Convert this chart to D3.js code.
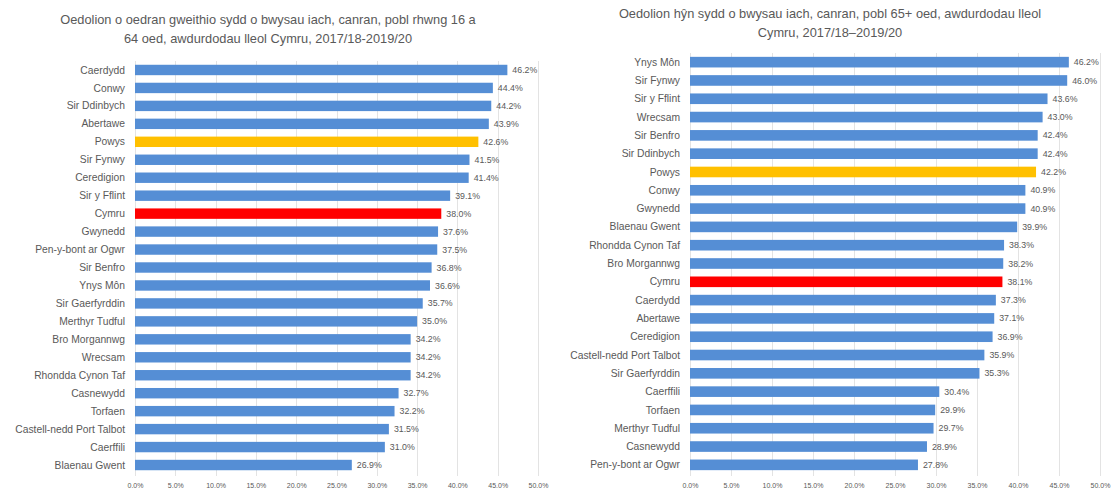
<!DOCTYPE html>
<html>
<head>
<meta charset="utf-8">
<script src="https://cdn.jsdelivr.net/npm/d3@7"></script>
<style>
  body { margin: 0; background: #fff; }
  svg { display: block; }
  text { font-family: "Liberation Sans", "DejaVu Sans", sans-serif; fill: #595959; }
</style>
</head>
<body>
<svg id="chart" width="1118" height="493"></svg>
<script>
// ---- Data ----
const leftTitle = ["Oedolion o oedran gweithio sydd o bwysau iach, canran, pobl rhwng 16 a", "64 oed, awdurdodau lleol Cymru, 2017/18-2019/20"];
const leftCategories = ["Caerdydd","Conwy","Sir Ddinbych","Abertawe","Powys","Sir Fynwy","Ceredigion","Sir y Fflint","Cymru","Gwynedd","Pen-y-bont ar Ogwr","Sir Benfro","Ynys Môn","Sir Gaerfyrddin","Merthyr Tudful","Bro Morgannwg","Wrecsam","Rhondda Cynon Taf","Casnewydd","Torfaen","Castell-nedd Port Talbot","Caerffili","Blaenau Gwent"];
const leftValues = [46.2,44.4,44.2,43.9,42.6,41.5,41.4,39.1,38.0,37.6,37.5,36.8,36.6,35.7,35.0,34.2,34.2,34.2,32.7,32.2,31.5,31.0,26.9];

const rightTitle = ["Oedolion hŷn sydd o bwysau iach, canran, pobl 65+ oed, awdurdodau lleol", "Cymru, 2017/18\u20132019/20"];
const rightCategories = ["Ynys Môn","Sir Fynwy","Sir y Fflint","Wrecsam","Sir Benfro","Sir Ddinbych","Powys","Conwy","Gwynedd","Blaenau Gwent","Rhondda Cynon Taf","Bro Morgannwg","Cymru","Caerdydd","Abertawe","Ceredigion","Castell-nedd Port Talbot","Sir Gaerfyrddin","Caerffili","Torfaen","Merthyr Tudful","Casnewydd","Pen-y-bont ar Ogwr"];
const rightValues = [46.2,46.0,43.6,43.0,42.4,42.4,42.2,40.9,40.9,39.9,38.3,38.2,38.1,37.3,37.1,36.9,35.9,35.3,30.4,29.9,29.7,28.9,27.8];

const xTicks = [0,5,10,15,20,25,30,35,40,45,50];
const highlightColors = { "Powys": "#FFC000", "Cymru": "#FF0000" };
const baseColor = "#558ED5";

const svg = d3.select("#chart");

function drawChart(cfg) {
  const g = svg.append("g");
  const x = d3.scaleLinear().domain([0, 50]).range([cfg.x0, cfg.x1]);
  const y = d3.scaleBand().domain(cfg.categories).range([cfg.yTop, cfg.yBottom]).paddingInner(0.42).paddingOuter(0.21);

  // title
  g.append("text")
    .attr("x", cfg.titleX).attr("y", cfg.titleY)
    .attr("text-anchor", "middle")
    .style("font-size", "12.8px")
    .selectAll("tspan").data(cfg.title).join("tspan")
    .attr("x", cfg.titleX).attr("dy", (d, i) => i === 0 ? 0 : 18.5)
    .text(d => d);

  // gridlines
  g.append("g").selectAll("line").data(xTicks).join("line")
    .attr("x1", d => Math.round(x(d)) + 0.5).attr("x2", d => Math.round(x(d)) + 0.5)
    .attr("y1", cfg.gridTop).attr("y2", cfg.gridBottom)
    .attr("stroke", "#e3e3e3").attr("stroke-width", 1);

  // x axis labels
  const axis = d3.axisBottom(x).tickValues(xTicks).tickSize(0).tickFormat(d => d3.format(".1f")(d) + "%");
  const ax = g.append("g").attr("transform", `translate(0,${cfg.axisY})`).call(axis);
  ax.select(".domain").remove();
  ax.selectAll("text").style("font-size", "7px").attr("dy", "0.7em").attr("fill", "#595959");

  // bars
  g.append("g").selectAll("rect").data(cfg.categories).join("rect")
    .attr("x", x(0))
    .attr("y", d => y(d))
    .attr("width", (d, i) => x(cfg.values[i]) - x(0))
    .attr("height", y.bandwidth())
    .attr("fill", d => highlightColors[d] || baseColor);

  // category labels
  g.append("g").selectAll("text").data(cfg.categories).join("text")
    .attr("x", x(0) - 10)
    .attr("y", d => y(d) + y.bandwidth() / 2)
    .attr("dy", "0.35em")
    .attr("text-anchor", "end")
    .style("font-size", "10.3px")
    .text(d => d);

  // value labels
  g.append("g").selectAll("text").data(cfg.categories).join("text")
    .attr("x", (d, i) => x(cfg.values[i]) + 5)
    .attr("y", d => y(d) + y.bandwidth() / 2)
    .attr("dy", "0.35em")
    .style("font-size", "8.8px")
    .text((d, i) => d3.format(".1f")(cfg.values[i]) + "%");
}

drawChart({
  title: leftTitle, categories: leftCategories, values: leftValues,
  x0: 135, x1: 538, yTop: 61, yBottom: 474,
  gridTop: 61, gridBottom: 476, axisY: 480,
  titleX: 268, titleY: 24
});

drawChart({
  title: rightTitle, categories: rightCategories, values: rightValues,
  x0: 690, x1: 1100, yTop: 53, yBottom: 474,
  gridTop: 53, gridBottom: 476, axisY: 480,
  titleX: 830, titleY: 18
});
</script>
</body>
</html>
